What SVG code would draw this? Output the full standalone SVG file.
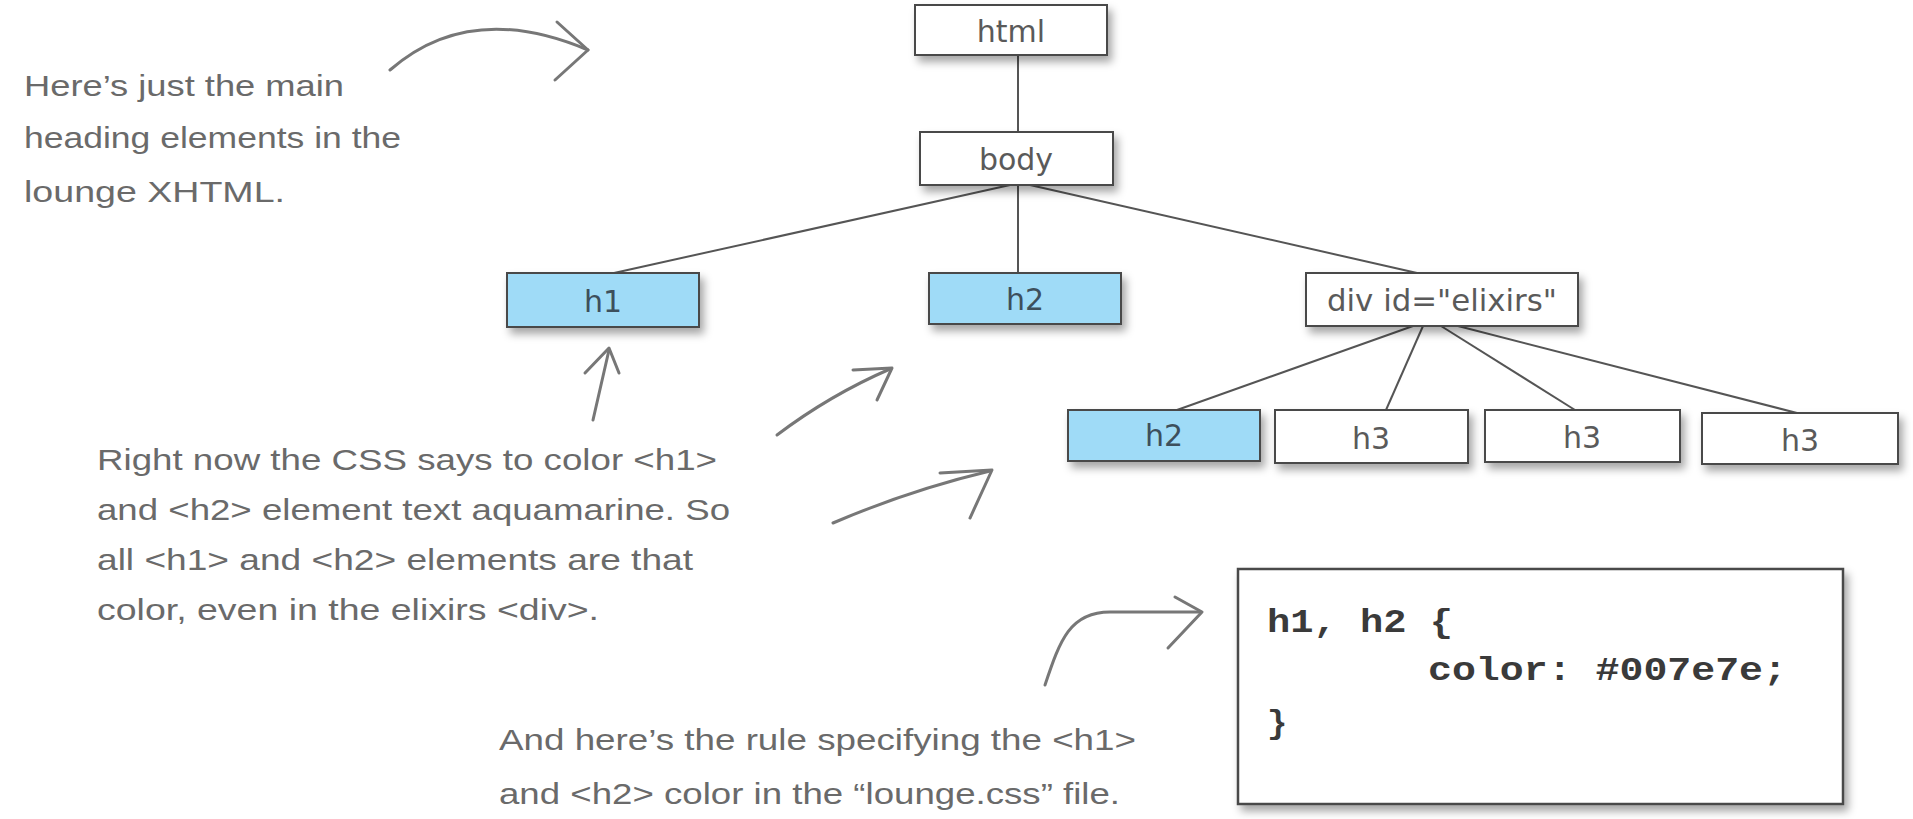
<svg xmlns="http://www.w3.org/2000/svg" width="1913" height="819" viewBox="0 0 1913 819">
<defs>
<filter id="sh" x="-10%" y="-20%" width="130%" height="160%">
<feDropShadow dx="4" dy="6" stdDeviation="4" flood-color="#000" flood-opacity="0.35"/>
</filter>
</defs>
<style>
.n rect{stroke:#4a4a4a;stroke-width:2;filter:url(#sh)}
.w rect{fill:#ffffff}
.b rect{fill:#9fdbf7}
.n text{font-family:"DejaVu Sans",sans-serif;font-size:30px;text-anchor:middle;fill:#5a5a5a}
.b text{fill:#3d4f5c}
.c line{stroke:#555;stroke-width:2}
.hand{font-family:"Liberation Sans Narrow","Liberation Sans",sans-serif;font-size:30px;fill:#6a6a6a}
.arr path{fill:none;stroke:#777;stroke-width:3;stroke-linecap:round;stroke-linejoin:round}
.code{font-family:"Liberation Mono",monospace;font-weight:bold;font-size:34px;fill:#3a3a3a}
</style>
<g id="connectors" class="c">
<line x1="1018" y1="55" x2="1018" y2="132"/>
<line x1="1010" y1="185" x2="614" y2="273"/>
<line x1="1018" y1="185" x2="1018" y2="273"/>
<line x1="1030" y1="185" x2="1417" y2="273"/>
<line x1="1413" y1="326" x2="1177" y2="410"/>
<line x1="1423" y1="326" x2="1386" y2="410"/>
<line x1="1441" y1="326" x2="1575" y2="410"/>
<line x1="1458" y1="326" x2="1797" y2="413"/>
</g>
<g id="node-html" class="n w"><rect x="915" y="5" width="192" height="50"/><text x="1011" y="42">html</text></g>
<g id="node-body" class="n w"><rect x="920" y="132" width="193" height="53"/><text x="1016" y="170">body</text></g>
<g id="node-h1" class="n b"><rect x="507" y="273" width="192" height="54"/><text x="603" y="312">h1</text></g>
<g id="node-h2" class="n b"><rect x="929" y="273" width="192" height="51"/><text x="1025" y="310">h2</text></g>
<g id="node-div" class="n w"><rect x="1306" y="273" width="272" height="53"/><text x="1442" y="311" textLength="230" lengthAdjust="spacingAndGlyphs">div id="elixirs"</text></g>
<g id="node-h2b" class="n b"><rect x="1068" y="410" width="192" height="51"/><text x="1164" y="446">h2</text></g>
<g id="node-h3a" class="n w"><rect x="1275" y="410" width="193" height="53"/><text x="1371" y="449">h3</text></g>
<g id="node-h3b" class="n w"><rect x="1485" y="410" width="195" height="52"/><text x="1582" y="448">h3</text></g>
<g id="node-h3c" class="n w"><rect x="1702" y="413" width="196" height="51"/><text x="1800" y="451">h3</text></g>
<g id="css-box">
<rect x="1238" y="569" width="605" height="235" fill="#fff" stroke="#4a4a4a" stroke-width="2.5" filter="url(#sh)"/>
<text class="code" x="1267" y="632" textLength="186" lengthAdjust="spacingAndGlyphs">h1, h2 {</text>
<text class="code" x="1428" y="680" textLength="359" lengthAdjust="spacingAndGlyphs">color: #007e7e;</text>
<text class="code" x="1267" y="733">}</text>
</g>
<g id="annotations">
<text class="hand" x="24" y="96" textLength="320" lengthAdjust="spacingAndGlyphs">Here’s just the main</text>
<text class="hand" x="24" y="148" textLength="377" lengthAdjust="spacingAndGlyphs">heading elements in the</text>
<text class="hand" x="24" y="202" textLength="261" lengthAdjust="spacingAndGlyphs">lounge XHTML.</text>
<text class="hand" x="97" y="470" textLength="620" lengthAdjust="spacingAndGlyphs">Right now the CSS says to color &lt;h1&gt;</text>
<text class="hand" x="97" y="520" textLength="633" lengthAdjust="spacingAndGlyphs">and &lt;h2&gt; element text aquamarine. So</text>
<text class="hand" x="97" y="570" textLength="596" lengthAdjust="spacingAndGlyphs">all &lt;h1&gt; and &lt;h2&gt; elements are that</text>
<text class="hand" x="97" y="620" textLength="502" lengthAdjust="spacingAndGlyphs">color, even in the elixirs &lt;div&gt;.</text>
<text class="hand" x="499" y="750" textLength="637" lengthAdjust="spacingAndGlyphs">And here’s the rule specifying the &lt;h1&gt;</text>
<text class="hand" x="499" y="804" textLength="621" lengthAdjust="spacingAndGlyphs">and &lt;h2&gt; color in the “lounge.css” file.</text>
</g>
<g id="arrows" class="arr">
<path d="M390 70 Q470 0 588 50"/><path d="M557 22 L588 50 L555 80"/>
<path d="M593 420 L609 350"/><path d="M585 373 L609 348 L619 373"/>
<path d="M777 435 Q830 395 890 369"/><path d="M853 370 L892 368 L877 400"/>
<path d="M833 523 Q910 490 990 471"/><path d="M940 473 L992 470 L970 518"/>
<path d="M1045 685 C1060 640 1070 612 1110 612 L1200 612"/><path d="M1175 597 L1202 612 L1168 648"/>
</g>
</svg>
